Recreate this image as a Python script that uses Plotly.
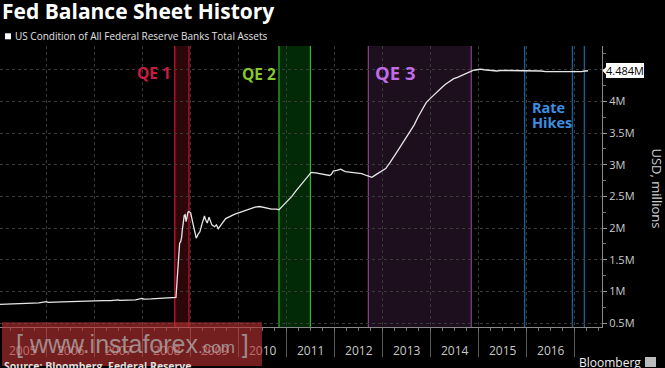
import plotly.graph_objects as go

# ---------------- data ----------------
dates = [
    "2005-01-05", "2005-03-02", "2005-05-04", "2005-07-06", "2005-09-07", "2005-11-02", "2005-12-28",
    "2006-01-11", "2006-03-01", "2006-05-03", "2006-07-05", "2006-09-06", "2006-11-01", "2006-12-27",
    "2007-01-10", "2007-03-07", "2007-05-02", "2007-06-27", "2007-07-11", "2007-09-05", "2007-11-07", "2007-12-26",
    "2008-01-09", "2008-03-05", "2008-05-07", "2008-07-02", "2008-08-27", "2008-09-10", "2008-09-17", "2008-09-24",
    "2008-10-01", "2008-10-08", "2008-10-15", "2008-10-22", "2008-10-29", "2008-11-05", "2008-11-12", "2008-11-19",
    "2008-11-26", "2008-12-03", "2008-12-10", "2008-12-17", "2008-12-31",
    "2009-01-14", "2009-01-28", "2009-02-04", "2009-02-11", "2009-02-25", "2009-03-11", "2009-03-25", "2009-04-01",
    "2009-04-15", "2009-04-22", "2009-05-06", "2009-05-20", "2009-06-03", "2009-06-10", "2009-07-01", "2009-07-15",
    "2009-07-29", "2009-08-19", "2009-09-02", "2009-09-23", "2009-10-28", "2009-12-02", "2009-12-30",
    "2010-01-27", "2010-03-17", "2010-05-05", "2010-06-09", "2010-07-07", "2010-08-11", "2010-09-08", "2010-10-13",
    "2010-11-03", "2010-12-01",
    "2011-01-05", "2011-02-09", "2011-03-09", "2011-04-13", "2011-05-11", "2011-06-08", "2011-07-06", "2011-08-10",
    "2011-09-14", "2011-10-19", "2011-11-23", "2011-12-07", "2011-12-21",
    "2012-01-18", "2012-02-15", "2012-03-21", "2012-04-25", "2012-05-23", "2012-06-27", "2012-07-25", "2012-08-29",
    "2012-09-19", "2012-10-10", "2012-11-07", "2012-11-28", "2012-12-26",
    "2013-01-23", "2013-02-27", "2013-03-27", "2013-04-24", "2013-05-22", "2013-06-26", "2013-07-24", "2013-08-28",
    "2013-09-25", "2013-10-23", "2013-11-27", "2013-12-25",
    "2014-01-22", "2014-02-26", "2014-03-26", "2014-04-23", "2014-05-28", "2014-06-25", "2014-07-23", "2014-08-27",
    "2014-09-24", "2014-10-22", "2014-11-19", "2014-12-17",
    "2015-01-14", "2015-02-11", "2015-03-18", "2015-04-22", "2015-05-20", "2015-06-24", "2015-07-22", "2015-08-26",
    "2015-09-23", "2015-10-28", "2015-12-02",
    "2016-01-06", "2016-02-10", "2016-03-16", "2016-04-20", "2016-05-25", "2016-06-29", "2016-07-27", "2016-08-31",
    "2016-09-28", "2016-10-26", "2016-11-30", "2016-12-28",
    "2017-01-25", "2017-02-22", "2017-03-22", "2017-04-12",
]
assets_musd = [
    0.795, 0.798, 0.803, 0.808, 0.812, 0.818, 0.838,
    0.826, 0.829, 0.834, 0.838, 0.842, 0.845, 0.858,
    0.849, 0.852, 0.855, 0.866, 0.856, 0.860, 0.866, 0.888,
    0.877, 0.880, 0.885, 0.890, 0.895, 0.905, 1.12, 1.40,
    1.62, 1.76, 1.78, 1.84, 1.98, 2.12, 2.20, 2.21,
    2.10, 2.17, 2.25, 2.26, 2.24,
    2.10, 1.96, 1.88, 1.84, 1.90, 1.94, 2.05, 2.10,
    2.19, 2.14, 2.08, 2.17, 2.10, 2.05, 2.02, 2.05,
    1.99, 2.06, 2.09, 2.15, 2.19, 2.22, 2.24,
    2.26, 2.30, 2.33, 2.34, 2.33, 2.31, 2.30, 2.30,
    2.29, 2.35,
    2.42, 2.50, 2.58, 2.67, 2.74, 2.80, 2.88, 2.87,
    2.86, 2.85, 2.83, 2.85, 2.90,
    2.91, 2.93, 2.89, 2.88, 2.87, 2.87, 2.86, 2.83,
    2.81, 2.80, 2.84, 2.87, 2.90,
    2.94, 3.04, 3.14, 3.22, 3.31, 3.43, 3.53, 3.63,
    3.75, 3.86, 3.98, 4.04,
    4.10, 4.17, 4.22, 4.27, 4.32, 4.36, 4.38, 4.41,
    4.44, 4.47, 4.49, 4.50,
    4.51, 4.50, 4.49, 4.49, 4.48, 4.49, 4.49, 4.48,
    4.48, 4.49, 4.49,
    4.49, 4.49, 4.48, 4.48, 4.47, 4.47, 4.47, 4.47,
    4.46, 4.46, 4.47, 4.47,
    4.47, 4.47, 4.48, 4.484,
]

qe_names = ["QE 1", "QE 2", "QE 3"]
qe_starts = ["2008-09-01", "2010-11-03", "2012-09-13"]
qe_ends = ["2008-12-18", "2011-06-30", "2014-11-05"]
rate_hike_dates = ["2015-12-16", "2016-12-14", "2017-03-15"]

years = [2005, 2006, 2007, 2008, 2009, 2010, 2011, 2012, 2013, 2014, 2015, 2016]
y_tickvals = [0.5, 1.0, 1.5, 2.0, 2.5, 3.0, 3.5, 4.0, 4.5]
y_ticktext = ["0.5M", "1M", "1.5M", "2M", "2.5M", "3M", "3.5M", "4M", ""]

# ---------------- styling ----------------
FONT = "Open Sans"
W, H = 665, 368
ML, MR, MT, MB = 0, 63, 46, 41
PW, PH = W - ML - MR, H - MT - MB
XRANGE = ["2005-01-10", "2017-07-27"]
YRANGE = [0.437, 4.875]
Y_PER_PX = (YRANGE[1] - YRANGE[0]) / PH

qe_fill = ["#2c0609", "#032a07", "#1d0f1e"]
qe_edge = ["#d0182c", "#2fb52f", "#8a4390"]
qe_text = ["#c81c40", "#86c928", "#c06ce6"]
qe_size = [15.5, 15.5, 18.5]
qe_label_px = [(154, 72.7), (258.8, 74.3), (394.5, 72.7)]


def px_x(x):
    return (x - ML) / PW


def px_y(y):
    return (H - MB - y) / PH


fig = go.Figure()
fig.add_trace(go.Scatter(
    x=dates, y=assets_musd, mode="lines",
    line=dict(color="#e6e6e6", width=1.3),
    showlegend=False, hoverinfo="skip",
))
# helper trace for quarter tick axis
fig.add_trace(go.Scatter(
    x=XRANGE, y=[None, None], xaxis="x2", mode="lines",
    showlegend=False, hoverinfo="skip",
))

shapes = []
annotations = []

for i in range(len(qe_names)):
    shapes.append(dict(type="rect", xref="x", yref="paper", x0=qe_starts[i], x1=qe_ends[i],
                       y0=0, y1=1, fillcolor=qe_fill[i], line=dict(width=0), layer="below"))
    for d in (qe_starts[i], qe_ends[i]):
        shapes.append(dict(type="line", xref="x", yref="paper", x0=d, x1=d, y0=0, y1=1,
                           line=dict(color=qe_edge[i], width=1.2), layer="below"))
    annotations.append(dict(text="<b>%s</b>" % qe_names[i], xref="paper", yref="paper",
                            x=px_x(qe_label_px[i][0]), y=px_y(qe_label_px[i][1]),
                            xanchor="center", yanchor="middle", showarrow=False,
                            font=dict(family=FONT, size=qe_size[i], color=qe_text[i])))

for d in rate_hike_dates:
    shapes.append(dict(type="line", xref="x", yref="paper", x0=d, x1=d, y0=0, y1=1,
                       line=dict(color="#1f5c92", width=1.4), layer="below"))

annotations.append(dict(text="<b>Rate</b>", xref="paper", yref="paper", x=px_x(529.5), y=px_y(107.3),
                        xanchor="left", yanchor="middle", showarrow=False,
                        font=dict(family=FONT, size=14.5, color="#3b8fe0")))
annotations.append(dict(text="<b>Hikes</b>", xref="paper", yref="paper", x=px_x(529.5), y=px_y(122.7),
                        xanchor="left", yanchor="middle", showarrow=False,
                        font=dict(family=FONT, size=14.5, color="#3b8fe0")))

# title and legend
annotations.append(dict(text="<b>Fed Balance Sheet History</b>", xref="paper", yref="paper",
                        x=px_x(0), y=px_y(11.5), xanchor="left", yanchor="middle", showarrow=False,
                        font=dict(family=FONT, size=21, color="#ffffff")))
shapes.append(dict(type="rect", xref="paper", yref="paper", x0=px_x(5), x1=px_x(11),
                   y0=px_y(39.3), y1=px_y(33.3), fillcolor="#ffffff", line=dict(width=0)))
annotations.append(dict(text="US Condition of All Federal Reserve Banks Total Assets", xref="paper", yref="paper",
                        x=px_x(13), y=px_y(36.5), xanchor="left", yanchor="middle", showarrow=False,
                        font=dict(family=FONT, size=10, color="#e2e2e2")))

# last value tag (box + pointer)
last_v = assets_musd[-1]
half = 5.3 * Y_PER_PX
shapes.append(dict(type="path", xref="paper", yref="y",
                   path="M %f,%f L %f,%f L %f,%f Z" % (px_x(602.5), last_v, px_x(607.5), last_v + half,
                                                       px_x(607.5), last_v - half),
                   fillcolor="#ffffff", line=dict(width=0), layer="above"))
annotations.append(dict(text="%.3fM" % last_v, xref="paper", yref="y",
                        x=px_x(606), y=last_v, xanchor="left", yanchor="middle", showarrow=False,
                        bgcolor="#ffffff", borderpad=0, borderwidth=0,
                        font=dict(family=FONT, size=11, color="#000000")))

# y axis title
annotations.append(dict(text="USD, millions", xref="paper", yref="paper", x=px_x(656.5), y=px_y(188),
                        xanchor="center", yanchor="middle", textangle=90, showarrow=False,
                        font=dict(family=FONT, size=13, color="#cfcfcf")))

# source / brand
annotations.append(dict(text="<b>Source: Bloomberg, Federal Reserve</b>", xref="paper", yref="paper",
                        x=px_x(2), y=px_y(366), xanchor="left", yanchor="middle", showarrow=False,
                        font=dict(family=FONT, size=10.5, color="#dedede")))
annotations.append(dict(text="Bloomberg", xref="paper", yref="paper",
                        x=px_x(643), y=px_y(362.5), xanchor="right", yanchor="middle", showarrow=False,
                        font=dict(family=FONT, size=12, color="#f0f0f0")))
shapes.append(dict(type="rect", xref="paper", yref="paper", x0=px_x(645), x1=px_x(656),
                   y0=px_y(367), y1=px_y(357), fillcolor="#bbbbbb", line=dict(width=0)))

# watermark
shapes.append(dict(type="rect", xref="paper", yref="paper", x0=px_x(2), x1=px_x(262),
                   y0=px_y(366), y1=px_y(322.3), fillcolor="rgba(185,50,50,0.62)",
                   line=dict(width=0), layer="above"))
annotations.append(dict(text="[ www.instaforex<span style='font-size:17px'>.com</span> ]",
                        xref="paper", yref="paper", x=px_x(132), y=px_y(344),
                        xanchor="center", yanchor="middle", showarrow=False,
                        font=dict(family="Liberation Sans", size=25, color="rgba(175,175,175,0.75)")))

mid_year = ["%d-07-02" % y for y in years]

fig.update_layout(
    width=W, height=H,
    margin=dict(l=ML, r=MR, t=MT, b=MB),
    paper_bgcolor="#000000", plot_bgcolor="#000000",
    font=dict(family=FONT, color="#cccccc"),
    showlegend=False,
    shapes=shapes, annotations=annotations,
    xaxis=dict(
        type="date", range=XRANGE,
        tickvals=mid_year, ticktext=[str(y) for y in years],
        ticks="outside", ticklen=4, tickcolor="rgba(0,0,0,0)",
        ticklabelstandoff=9,
        tickfont=dict(family=FONT, size=12, color="#c8c8c8"),
        showgrid=False, zeroline=False,
        showline=True, linecolor="#8a8a8a", linewidth=1,
        minor=dict(dtick="M12", tick0="2005-01-01", ticks="outside", ticklen=29,
                   tickcolor="#5a5a5a", tickwidth=1,
                   showgrid=True, gridcolor="#3a3a3a", griddash="dot", gridwidth=1),
    ),
    xaxis2=dict(
        type="date", range=XRANGE, overlaying="x", anchor="y", side="bottom",
        dtick="M3", tick0="2005-01-01", ticks="outside", ticklen=3, tickcolor="#707070",
        showticklabels=False, showgrid=False, zeroline=False, showline=False,
    ),
    yaxis=dict(
        range=YRANGE, side="right",
        tickvals=y_tickvals, ticktext=y_ticktext,
        ticks="outside", ticklen=4, tickcolor="#9a9a9a",
        tickfont=dict(family=FONT, size=11, color="#cccccc"),
        showgrid=True, gridcolor="#3a3a3a", griddash="dot", gridwidth=1,
        zeroline=False, showline=True, linecolor="#8a8a8a", linewidth=1,
        minor=dict(dtick=0.25, tick0=0, ticks="outside", ticklen=3, tickcolor="#707070", showgrid=False),
    ),
)

fig.write_html("out.html", config={"displayModeBar": False},
               post_script="document.body.style.margin='0px';document.body.style.overflow='hidden';")
